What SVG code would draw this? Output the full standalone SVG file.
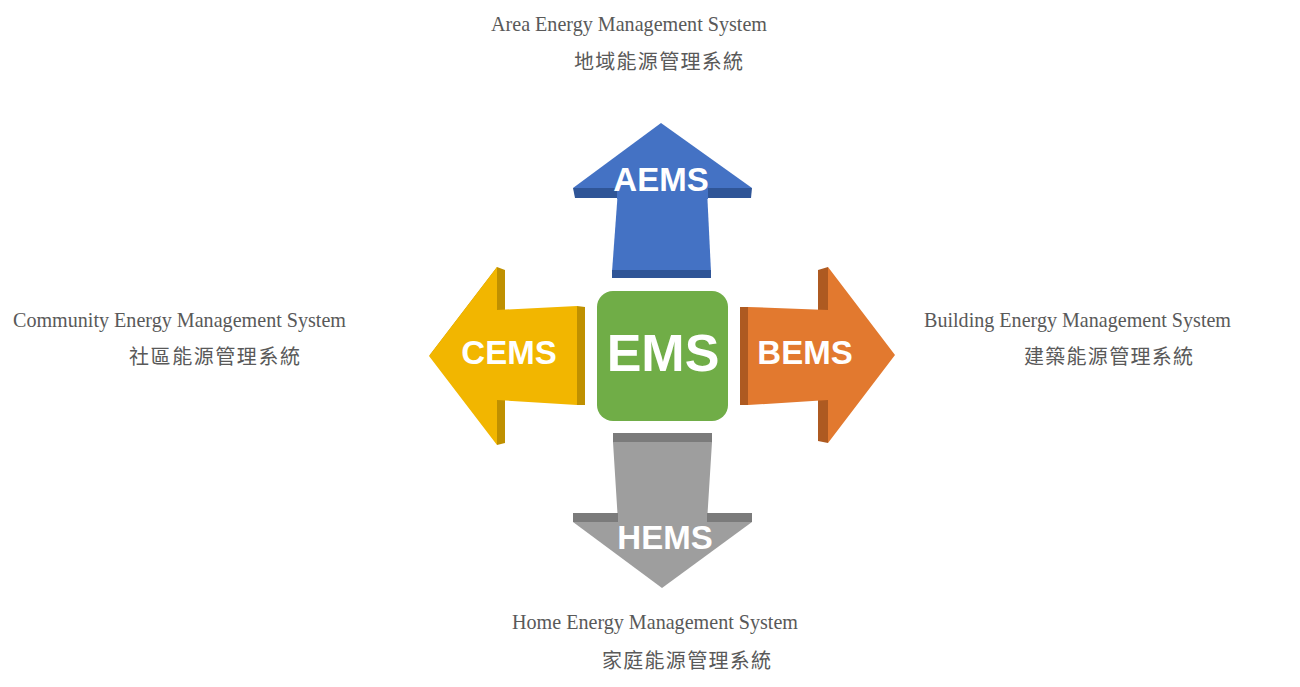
<svg xmlns="http://www.w3.org/2000/svg" width="1300" height="687" viewBox="0 0 1300 687">
<style>
.en{font-family:"Liberation Serif","Times New Roman",serif;font-size:22px;fill:#595959}
.zh{font-family:"Noto Sans CJK TC","Noto Sans CJK SC",sans-serif;font-size:20px;fill:#595959}
.lbl{font-family:"Liberation Sans",Arial,sans-serif;font-weight:bold;font-size:33px;fill:#fff;text-anchor:middle}
</style>
<rect width="1300" height="687" fill="#fff"/>
<g id="connectors">
<g id="aems">
<polygon points="618,190 707,190 711,272 612,272" fill="#4472C4"/>
<polygon points="612,270 711,270 711,278 612,278" fill="#2F5597"/>
<polygon points="573,188 752,188 751,198 575,198" fill="#2F5597"/>
<polygon points="661,123 752,188 573,188" fill="#4472C4"/>
<rect x="617" y="188" width="91" height="11" fill="#4472C4"/>
<text class="lbl" x="661" y="191">AEMS</text>
</g>
<g id="cems">
<polygon points="429,356 497,267 505,270 505,310 497,310" fill="#BF9000"/>
<polygon points="497,400 505,400 505,443 497,445" fill="#BF9000"/>
<polygon points="577,306 585,307 585,405 577,405" fill="#BF9000"/>
<polygon points="429,356 497,267 497,310 577,306 577,405 497,400 497,445" fill="#F2B600"/>
<text class="lbl" x="509" y="364">CEMS</text>
</g>
<g id="bems">
<polygon points="818,270 828,267 828,310 818,310" fill="#AE5A21"/>
<polygon points="818,400 828,400 828,443 818,441" fill="#AE5A21"/>
<polygon points="740,307 748,307 748,405 740,405" fill="#AE5A21"/>
<polygon points="895,355 828,267 828,310 748,307 748,405 828,400 828,443" fill="#E2792F"/>
<text class="lbl" x="805" y="364">BEMS</text>
</g>
<g id="hems">
<polygon points="613,433 712,433 712,443 613,443" fill="#7B7B7B"/>
<polygon points="613,442 712,442 707,522 618,522" fill="#9E9E9E"/>
<polygon points="573,513 752,513 752,522 573,522" fill="#7B7B7B"/>
<polygon points="573,522 752,522 662,588" fill="#9E9E9E"/>
<rect x="618" y="512" width="89" height="11" fill="#9E9E9E"/>
<text class="lbl" x="665" y="549">HEMS</text>
</g>
</g>
<g id="ems">
<rect x="597" y="291" width="131" height="130" rx="16" fill="#70AD47"/>
<text x="663" y="371" font-family="Liberation Sans,Arial,sans-serif" font-weight="bold" font-size="52" fill="#fff" text-anchor="middle">EMS</text>
</g>
<g id="label-aems">
<text class="en" x="491" y="31" textLength="276" lengthAdjust="spacingAndGlyphs">Area Energy Management System</text>
<text class="zh" x="574" y="69" textLength="169" lengthAdjust="spacing">地域能源管理系統</text>
</g>
<g id="label-cems">
<text class="en" x="13" y="327" textLength="333" lengthAdjust="spacingAndGlyphs">Community Energy Management System</text>
<text class="zh" x="129" y="364" textLength="171" lengthAdjust="spacing">社區能源管理系統</text>
</g>
<g id="label-bems">
<text class="en" x="924" y="327" textLength="307" lengthAdjust="spacingAndGlyphs">Building Energy Management System</text>
<text class="zh" x="1024" y="364" textLength="169" lengthAdjust="spacing">建築能源管理系統</text>
</g>
<g id="label-hems">
<text class="en" x="512" y="629" textLength="286" lengthAdjust="spacingAndGlyphs">Home Energy Management System</text>
<text class="zh" x="602" y="668" textLength="169" lengthAdjust="spacing">家庭能源管理系統</text>
</g>
</svg>
